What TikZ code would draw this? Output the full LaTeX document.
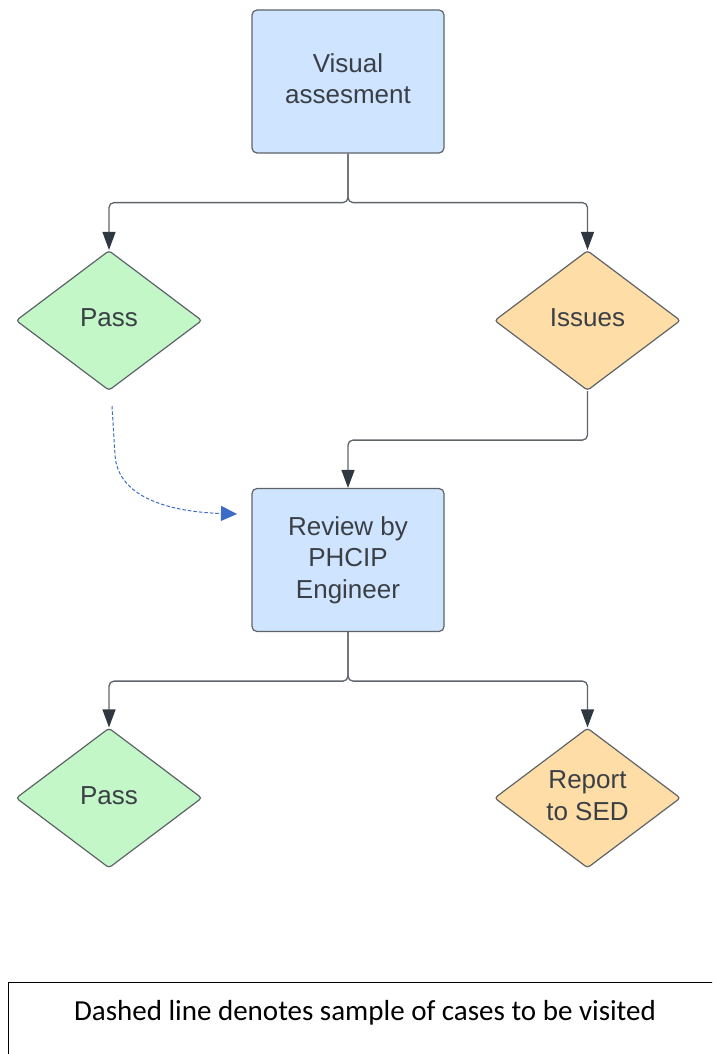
\documentclass[tikz,border=0pt]{standalone}
\usepackage{fontspec}
\setmainfont{Liberation Sans}
\newfontfamily\notefont{Carlito}
\usetikzlibrary{shapes.geometric,arrows.meta}
\definecolor{boxblue}{HTML}{CFE4FF}
\definecolor{dgreen}{HTML}{C3F7C8}
\definecolor{dorange}{HTML}{FFDDA6}
\definecolor{edgegray}{HTML}{5E6369}
\definecolor{linegray}{HTML}{5F646A}
\definecolor{tipdark}{HTML}{2F3740}
\definecolor{txt}{HTML}{3A3F46}
\definecolor{dashblue}{HTML}{3D6CC7}
\newcommand{\lzdepth}{\vphantom{g}}
\tikzset{
  procbox/.style={draw=edgegray, fill=boxblue, line width=1.2pt, rounded corners=5pt,
    minimum width=192pt, minimum height=143pt, inner sep=0pt, align=center,
    text=txt, font=\fontsize{26}{31.5}\selectfont},
  passdia/.style={diamond, draw=edgegray, fill=dgreen, line width=1.2pt, rounded corners=3pt,
    minimum width=186pt, minimum height=140pt, inner sep=0pt, align=center,
    text=txt, font=\fontsize{26}{31.5}\selectfont},
  issuedia/.style={passdia, fill=dorange},
  conn/.style={draw=linegray, line width=1.3pt, rounded corners=5pt,
    -{Triangle[length=18pt,width=13pt,color=tipdark]}},
  sampleline/.style={draw=dashblue, line width=1pt, dash pattern=on 3.5pt off 2pt,
    -{Triangle[length=16pt,width=15pt,color=dashblue]}}
}
\begin{document}
\begin{tikzpicture}[x=1pt,y=-1pt]
\useasboundingbox (0,0) rectangle (712,1054);
\clip (0,0) rectangle (712,1054);

\node[procbox] (visual) at (348,81.5) {Visual\\assesment\lzdepth};
\node[passdia] (pass1) at (109,320.5) {Pass\lzdepth};
\node[issuedia] (issues) at (587.5,320.5) {Issues\lzdepth};
\node[procbox] (review) at (348,560) {Review by\\PHCIP\\Engineer};
\node[passdia] (pass2) at (109,798) {Pass\lzdepth};
\node[issuedia] (report) at (587.5,798) {Report\\to SED\lzdepth};

\draw[conn] (visual.south) -- ++(0,49) -| (pass1.north);
\draw[conn] (visual.south) -- ++(0,49) -| (issues.north);
\draw[conn] (issues.south) -- ++(0,49) -| (review.north);
\draw[conn] (review.south) -- ++(0,49) -| (pass2.north);
\draw[conn] (review.south) -- ++(0,49) -| (report.north);

\coordinate (dstart) at (112,406);
\coordinate (dend) at (237,514);
\draw[sampleline] (dstart) -- (115,455) .. controls (118,500) and (175,512) .. (dend);

\draw[black, line width=1pt] (8,1064) rectangle (722,982);
\node[anchor=base, font=\notefont\fontsize{29}{33}\selectfont, text=black, inner sep=0pt] (note) at (365,1020) {Dashed line denotes sample of cases to be visited};
\end{tikzpicture}
\end{document}
